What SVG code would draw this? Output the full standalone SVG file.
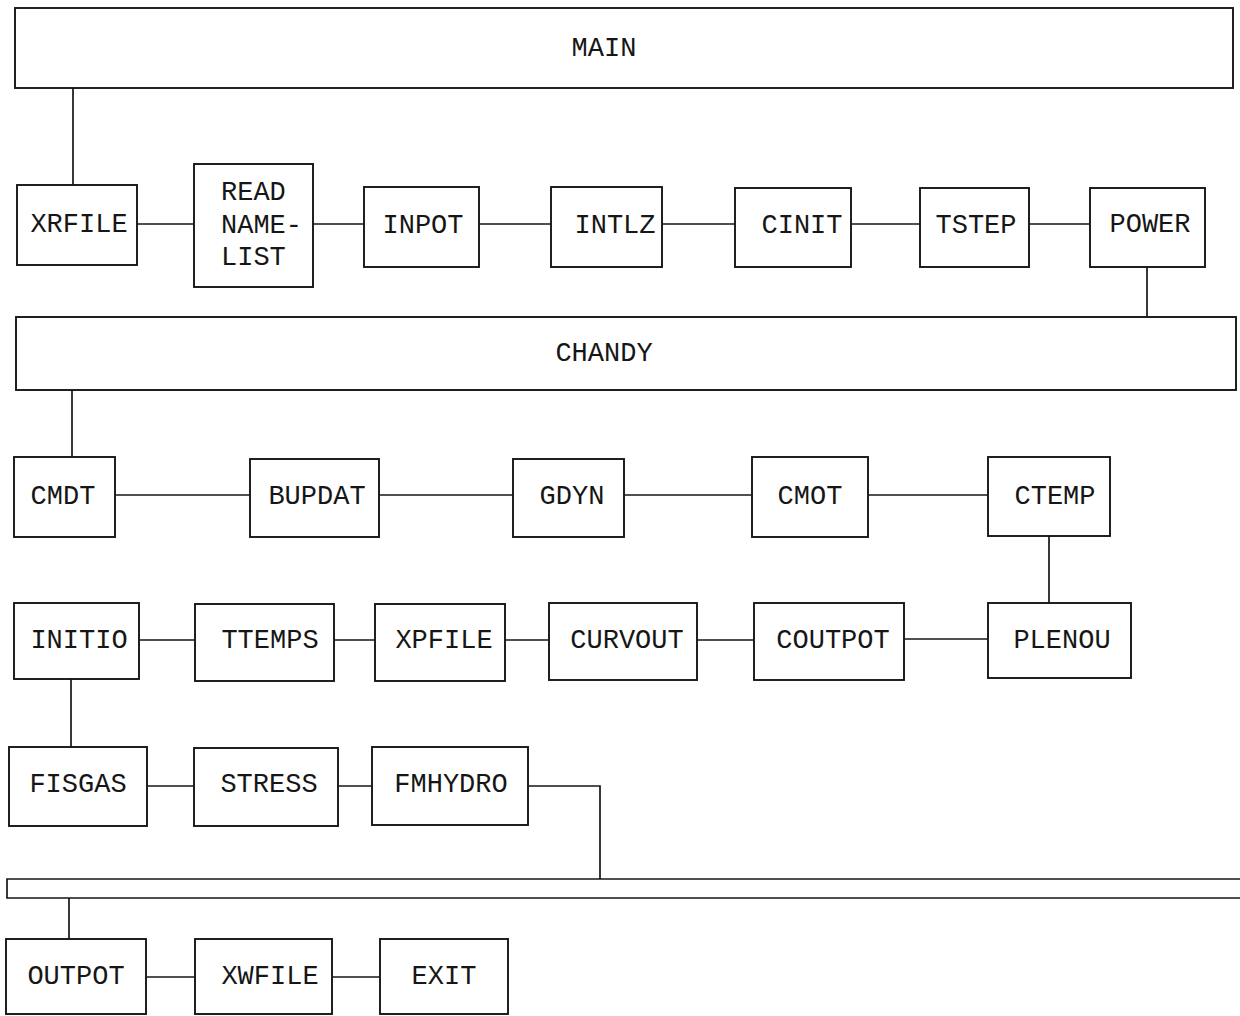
<svg xmlns="http://www.w3.org/2000/svg" width="1240" height="1016" viewBox="0 0 1240 1016">
<style>
.b{fill:#fff;stroke:#161616;stroke-width:1.9}
.c{fill:none;stroke:#161616;stroke-width:1.7}
text{font-family:"Liberation Mono","Courier New",monospace;font-size:27px;fill:#161616;text-anchor:middle}
.l{text-anchor:start}
</style>
<rect width="1240" height="1016" fill="#fff"/>
<g id="connectors">
<path class="c" d="M73,88V186"/>
<path class="c" d="M137,224H194"/>
<path class="c" d="M313,224H364"/>
<path class="c" d="M479,224H551"/>
<path class="c" d="M662,224H735"/>
<path class="c" d="M851,224H920"/>
<path class="c" d="M1029,224H1090"/>
<path class="c" d="M1147,267V317"/>
<path class="c" d="M72,389V457"/>
<path class="c" d="M115,495H250"/>
<path class="c" d="M379,495H513"/>
<path class="c" d="M624,495H752"/>
<path class="c" d="M868,495H988"/>
<path class="c" d="M1049,536V603"/>
<path class="c" d="M139,640H195"/>
<path class="c" d="M334,640H375"/>
<path class="c" d="M505,640H549"/>
<path class="c" d="M697,640H754"/>
<path class="c" d="M904,639H988"/>
<path class="c" d="M71,679V747"/>
<path class="c" d="M147,786H194"/>
<path class="c" d="M338,786H372"/>
<path class="c" d="M528,786H600V879"/>
<path class="c" d="M69,898V939"/>
<path class="c" d="M146,977H195"/>
<path class="c" d="M332,977H380"/>
</g>
<g id="MAIN"><rect class="b" x="15" y="8" width="1218" height="80"/><text x="604" y="56">MAIN</text></g>
<g id="XRFILE"><rect class="b" x="17" y="185" width="120" height="80"/><text x="79" y="232">XRFILE</text></g>
<g id="READNAMELIST"><rect class="b" x="194" y="164" width="119" height="123"/><text class="l" x="221" y="200">READ</text><text class="l" x="221" y="233">NAME-</text><text class="l" x="221" y="265">LIST</text></g>
<g id="INPOT"><rect class="b" x="364" y="187" width="115" height="80"/><text x="423" y="233">INPOT</text></g>
<g id="INTLZ"><rect class="b" x="551" y="187" width="111" height="80"/><text x="615" y="233">INTLZ</text></g>
<g id="CINIT"><rect class="b" x="735" y="188" width="116" height="79"/><text x="802" y="233">CINIT</text></g>
<g id="TSTEP"><rect class="b" x="920" y="188" width="109" height="79"/><text x="976" y="233">TSTEP</text></g>
<g id="POWER"><rect class="b" x="1090" y="188" width="115" height="79"/><text x="1150" y="232">POWER</text></g>
<g id="CHANDY"><rect class="b" x="16" y="317" width="1220" height="73"/><text x="604" y="361">CHANDY</text></g>
<g id="CMDT"><rect class="b" x="14" y="457" width="101" height="80"/><text x="63" y="504">CMDT</text></g>
<g id="BUPDAT"><rect class="b" x="250" y="459" width="129" height="78"/><text x="317" y="504">BUPDAT</text></g>
<g id="GDYN"><rect class="b" x="513" y="459" width="111" height="78"/><text x="572" y="504">GDYN</text></g>
<g id="CMOT"><rect class="b" x="752" y="457" width="116" height="80"/><text x="810" y="504">CMOT</text></g>
<g id="CTEMP"><rect class="b" x="988" y="457" width="122" height="79"/><text x="1055" y="504">CTEMP</text></g>
<g id="INITIO"><rect class="b" x="14" y="603" width="125" height="76"/><text x="79" y="648">INITIO</text></g>
<g id="TTEMPS"><rect class="b" x="195" y="604" width="139" height="77"/><text x="270" y="648">TTEMPS</text></g>
<g id="XPFILE"><rect class="b" x="375" y="604" width="130" height="77"/><text x="444" y="648">XPFILE</text></g>
<g id="CURVOUT"><rect class="b" x="549" y="603" width="148" height="77"/><text x="627" y="648">CURVOUT</text></g>
<g id="COUTPOT"><rect class="b" x="754" y="603" width="150" height="77"/><text x="833" y="648">COUTPOT</text></g>
<g id="PLENOU"><rect class="b" x="988" y="603" width="143" height="75"/><text x="1062" y="648">PLENOU</text></g>
<g id="FISGAS"><rect class="b" x="9" y="747" width="138" height="79"/><text x="78" y="792">FISGAS</text></g>
<g id="STRESS"><rect class="b" x="194" y="748" width="144" height="78"/><text x="269" y="792">STRESS</text></g>
<g id="FMHYDRO"><rect class="b" x="372" y="747" width="156" height="78"/><text x="451" y="792">FMHYDRO</text></g>
<g id="BUS"><path class="c" d="M1240,879H7V898H1240"/></g>
<g id="OUTPOT"><rect class="b" x="6" y="939" width="140" height="75"/><text x="76" y="984">OUTPOT</text></g>
<g id="XWFILE"><rect class="b" x="195" y="939" width="137" height="75"/><text x="270" y="984">XWFILE</text></g>
<g id="EXIT"><rect class="b" x="380" y="939" width="128" height="75"/><text x="444" y="984">EXIT</text></g>
</svg>
